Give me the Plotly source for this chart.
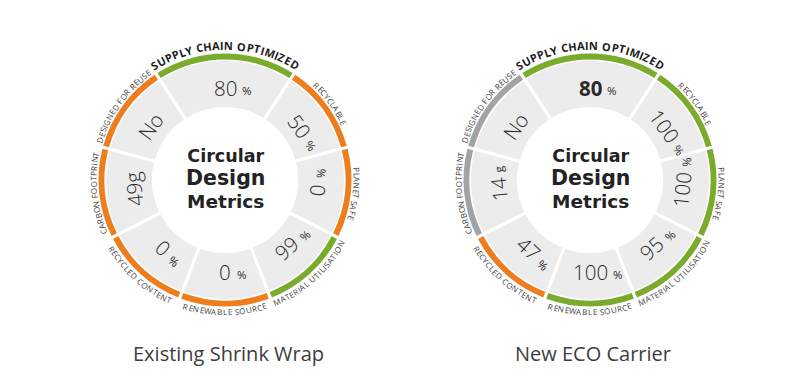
import math
import plotly.graph_objects as go

# ---------------- data ----------------
metric_labels = ["SUPPLY CHAIN OPTIMIZED", "RECYCLABLE", "PLANET SAFE",
                 "MATERIAL UTILISATION", "RENEWABLE SOURCE", "RECYCLED CONTENT",
                 "CARBON FOOTPRINT", "DESIGNED FOR REUSE"]

chart_titles = ["Existing Shrink Wrap", "New ECO Carrier"]

existing_values = ["80", "50", "0", "99", "0", "0", "49g", "No"]
existing_units = ["%", "%", "%", "%", "%", "%", "", ""]
existing_rating = ["good", "poor", "poor", "good", "poor", "poor", "poor", "poor"]

new_values = ["80", "100", "100", "95", "100", "47", "14", "No"]
new_units = ["%", "%", "%", "%", "%", "%", "g", ""]
new_rating = ["good", "good", "good", "good", "good", "poor", "neutral", "neutral"]

centre_lines = ["Circular", "Design", "Metrics"]

# ---------------- layout / style ----------------
W, H = 800, 390
SEG_CENTER = [0, 54, 96, 138, 180, 222, 264, 306]   # deg clockwise from top
SEG_WIDTH = [66, 42, 42, 42, 42, 42, 42, 42]
RATING_COLOR = {"good": "#7aab2d", "poor": "#ee7d1e", "neutral": "#a3a3a3"}
SEG_FILL = "#ececec"
HALF = 140                      # polar radius in px (1 radial unit = 1 px)
R_IN, R_SEG, R_BAND0, R_BAND1 = 73, 119, 120.5, 126.5
GAP = 3

CHAR_W = {"A": .64, "B": .65, "C": .63, "D": .73, "E": .56, "F": .52, "G": .72,
          "H": .74, "I": .30, "J": .29, "K": .62, "L": .52, "M": .90, "N": .76,
          "O": .78, "P": .60, "Q": .78, "R": .62, "S": .55, "T": .55, "U": .73,
          "V": .59, "W": .93, "X": .58, "Y": .57, "Z": .57, " ": .26,
          "0": .57, "1": .57, "2": .57, "3": .57, "4": .57, "5": .57, "6": .57,
          "7": .57, "8": .57, "9": .57, "o": .62, "g": .56, "%": .82}

circles = [
    dict(cx=217, cy=172, title=chart_titles[0], values=existing_values,
         units=existing_units, rating=existing_rating, bold_first=False),
    dict(cx=582, cy=172, title=chart_titles[1], values=new_values,
         units=new_units, rating=new_rating, bold_first=True),
]

fig = go.Figure()
annotations = []


def norm(a):
    while a > 180:
        a -= 360
    while a <= -180:
        a += 360
    return a


def px_point(cx, cy, r, phi):
    a = math.radians(phi)
    return cx + r * math.sin(a), cy - r * math.cos(a)


def ann(px, py, text, size, color, angle=0, weight="normal", family="Open Sans"):
    annotations.append(dict(
        x=px / W, y=1 - py / H, xref="paper", yref="paper", text=text,
        showarrow=False, xanchor="center", yanchor="middle", textangle=angle,
        font=dict(size=size, color=color, family=family, weight=weight),
        borderpad=0))


def curved(text, cx, cy, r, phi_c, size, color, weight="normal", track=0.35):
    bold = weight == "bold"
    widths = [CHAR_W.get(ch, .6) * size * (1.08 if bold else 1) + track for ch in text]
    total = sum(widths)
    flip = 100 < phi_c < 260
    s = 0.0
    for ch, w in zip(text, widths):
        mid = s + w / 2 - total / 2
        s += w
        if ch == " ":
            continue
        if not flip:
            phi = phi_c + math.degrees(mid / r)
            ang = phi
        else:
            phi = phi_c - math.degrees(mid / r)
            ang = phi - 180
        px, py = px_point(cx, cy, r, phi)
        ann(px, py, ch, size, color, norm(ang), weight)


for k, c in enumerate(circles):
    cx, cy = c["cx"], c["cy"]
    pname = "polar" if k == 0 else "polar2"
    n = len(metric_labels)
    fig.add_trace(go.Barpolar(
        theta=SEG_CENTER, width=SEG_WIDTH, base=[R_IN - GAP / 2] * n,
        r=[R_SEG - R_IN + GAP] * n, subplot=pname, hoverinfo="skip",
        marker=dict(color=SEG_FILL, line=dict(color="white", width=GAP))))
    fig.add_trace(go.Barpolar(
        theta=SEG_CENTER, width=[w - 1.5 for w in SEG_WIDTH], base=[R_BAND0] * n,
        r=[R_BAND1 - R_BAND0] * n, subplot=pname, hoverinfo="skip",
        marker=dict(color=[RATING_COLOR[v] for v in c["rating"]], line=dict(width=0))))
    fig.layout[pname] = dict(
        domain=dict(x=[(cx - HALF) / W, (cx + HALF) / W],
                    y=[(H - cy - HALF) / H, (H - cy + HALF) / H]),
        bgcolor="rgba(0,0,0,0)", hole=0,
        radialaxis=dict(range=[0, HALF], visible=False),
        angularaxis=dict(rotation=90, direction="clockwise", visible=False))

    # curved labels
    for i, lab in enumerate(metric_labels):
        if i == 0:
            curved(lab, cx, cy, 135, SEG_CENTER[i], 11, "#1e1e1e", "bold", 0.4)
        else:
            curved(lab, cx, cy, 132, SEG_CENTER[i], 8, "#3c3c3c", "normal", 0.35)

    # values
    for i, (v, u) in enumerate(zip(c["values"], c["units"])):
        phi = SEG_CENTER[i]
        flip = 90 < phi < 250
        ang = norm(phi - 180 if flip else phi)
        fs = 20.5
        px, py = px_point(cx, cy, 92, phi)
        weight = "bold" if (c["bold_first"] and i == 0) else 300
        ann(px, py, v, fs, "#2a2a2a", ang, weight)
        if u:
            fu = 11.5
            numw = sum(CHAR_W.get(ch, .6) for ch in v) * fs
            uw = CHAR_W.get(u, .6) * fu
            off = numw / 2 + 6 + uw / 2
            a = math.radians(ang)
            dx, dy = math.cos(a), math.sin(a)
            nx, ny = -math.sin(a), math.cos(a)
            shift = 2.5
            ann(px + dx * off + nx * shift, py + dy * off + ny * shift, u, fu, "#2a2a2a", ang)

    # centre text (one block, three lines)
    centre_text = "<br>".join([
        "<span style='font-size:17.5px'>%s</span>" % centre_lines[0],
        "<span style='font-size:20.5px'>%s</span>" % centre_lines[1],
        "<span style='font-size:18.5px'>%s</span>" % centre_lines[2]])
    ann(cx, cy - 1, centre_text, 17.5, "#232323", 0, "bold", "DejaVu Sans")

    # chart title
    ann(cx + 3, 345, c["title"], 20, "#3d3d3d", 0, "normal", "Open Sans")

fig.update_layout(width=W, height=H, margin=dict(l=0, r=0, t=0, b=0),
                  paper_bgcolor="white", plot_bgcolor="white",
                  showlegend=False, annotations=annotations)
fig.write_html("out.html")
